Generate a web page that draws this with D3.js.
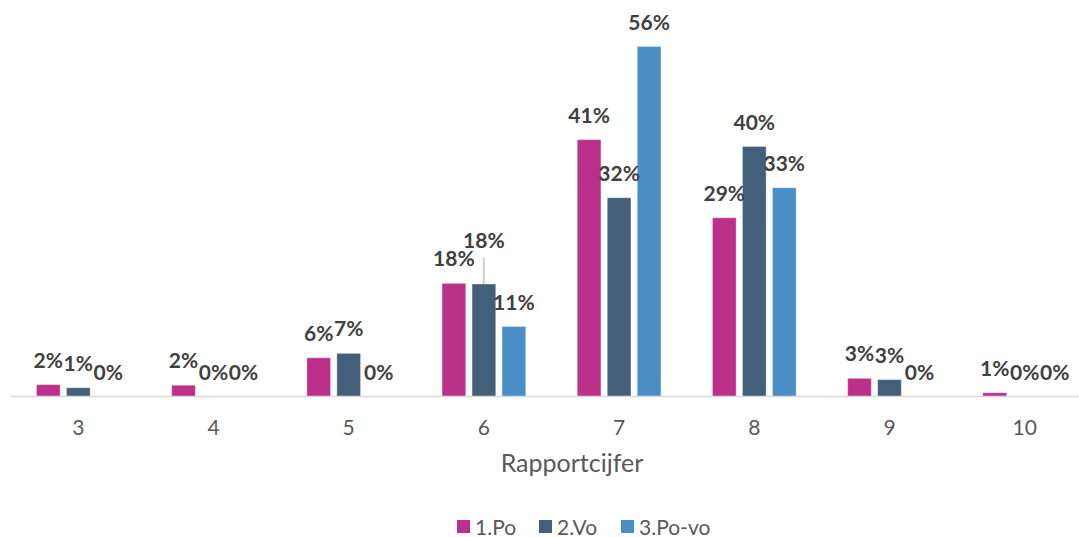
<!DOCTYPE html>
<html>
<head>
<meta charset="utf-8">
<script src="https://cdn.jsdelivr.net/npm/d3@7"></script>
<style>
  html, body { margin: 0; padding: 0; background: #fff; }
  svg { display: block; }
</style>
</head>
<body>
<svg id="chart" width="1079" height="537"></svg>
<script>
// ---- data ----
const categories = ["3", "4", "5", "6", "7", "8", "9", "10"];
const seriesNames = ["1.Po", "2.Vo", "3.Po-vo"];
const poValues   = [1.9, 1.8, 6.2, 18.1, 41.1, 28.6, 2.9, 0.6];
const voValues   = [1.4, 0.0, 6.9, 18.0, 31.8, 40.0, 2.7, 0.0];
const povoValues = [0.0, 0.0, 0.0, 11.2, 56.0, 33.4, 0.0, 0.0];
const poLabels   = ["2%", "2%", "6%", "18%", "41%", "29%", "3%", "1%"];
const voLabels   = ["1%", "0%", "7%", "18%", "32%", "40%", "3%", "0%"];
const povoLabels = ["0%", "0%", "0%", "11%", "56%", "33%", "0%", "0%"];
const axisTitle = "Rapportcijfer";

// ---- styling ----
const colors = ["#BB318A", "#445F7A", "#4A8EC6"];
const svg = d3.select("#chart");
const baseline = 396.5;

const x0 = d3.scaleBand().domain(categories).range([10.7, 1092.3])
  .paddingInner(0.381).paddingOuter(0.1905);
const x1 = d3.scaleBand().domain(seriesNames).range([0, x0.bandwidth()])
  .paddingInner(0.21).paddingOuter(0);
const y = d3.scaleLinear().domain([0, 60]).range([baseline, baseline - 375]);

const valueSets = [poValues, voValues, povoValues];
const labelSets = [poLabels, voLabels, povoLabels];
const rows = [];
seriesNames.forEach((s, si) => {
  categories.forEach((c, ci) => {
    rows.push({ s, si, c, v: valueSets[si][ci], label: labelSets[si][ci] });
  });
});

// bars
svg.append("g").selectAll("rect").data(rows.filter(d => d.v > 0)).join("rect")
  .attr("x", d => x0(d.c) + x1(d.s))
  .attr("y", d => y(d.v))
  .attr("width", x1.bandwidth())
  .attr("height", d => y(0) - y(d.v))
  .attr("fill", d => colors[d.si])
  .attr("stroke", "rgba(255,255,255,0.35)")
  .attr("stroke-width", 1);

// axis
const xAxis = d3.axisBottom(x0).tickSize(0).tickPadding(0);
const gx = svg.append("g").attr("transform", `translate(0,${baseline})`).call(xAxis);
gx.select(".domain").attr("stroke", "#D9D9D9").attr("stroke-width", 1.5)
  .attr("d", "M10.7,0H1079");
gx.selectAll("text")
  .attr("dy", null).attr("y", 38.5)
  .attr("font-family", "Lato, sans-serif").attr("font-size", 21)
  .attr("fill", "#595959");

// axis title
svg.append("text").attr("x", 572).attr("y", 472).attr("text-anchor", "middle")
  .attr("font-family", "Lato, sans-serif").attr("font-size", 25)
  .attr("fill", "#595959").text(axisTitle);

// data labels (one label lifted with leader line, as in the reference)
const lifted = { "2.Vo|6": 19 };
const lg = svg.append("g");
rows.forEach(d => {
  const cx = x0(d.c) + x1(d.s) + x1.bandwidth() / 2;
  const top = y(d.v);
  const lift = lifted[d.s + "|" + d.c] || 0;
  const by = top - 17 - lift;
  if (lift) {
    lg.append("line").attr("x1", cx).attr("x2", cx)
      .attr("y1", by + 10).attr("y2", top)
      .attr("stroke", "#A6A6A6").attr("stroke-width", 1);
  }
  lg.append("text").attr("x", cx).attr("y", by).attr("text-anchor", "middle")
    .attr("font-family", "Lato, sans-serif").attr("font-weight", "bold")
    .attr("font-size", 21).attr("fill", "#404040").text(d.label);
});

// legend
const legendX = [457, 539, 621];
const leg = svg.append("g");
seriesNames.forEach((s, i) => {
  leg.append("rect").attr("x", legendX[i]).attr("y", 520).attr("width", 13).attr("height", 13)
    .attr("fill", colors[i]);
  leg.append("text").attr("x", legendX[i] + 18).attr("y", 534.5)
    .attr("font-family", "Lato, sans-serif").attr("font-size", 21)
    .attr("fill", "#595959").text(s);
});
</script>
</body>
</html>
